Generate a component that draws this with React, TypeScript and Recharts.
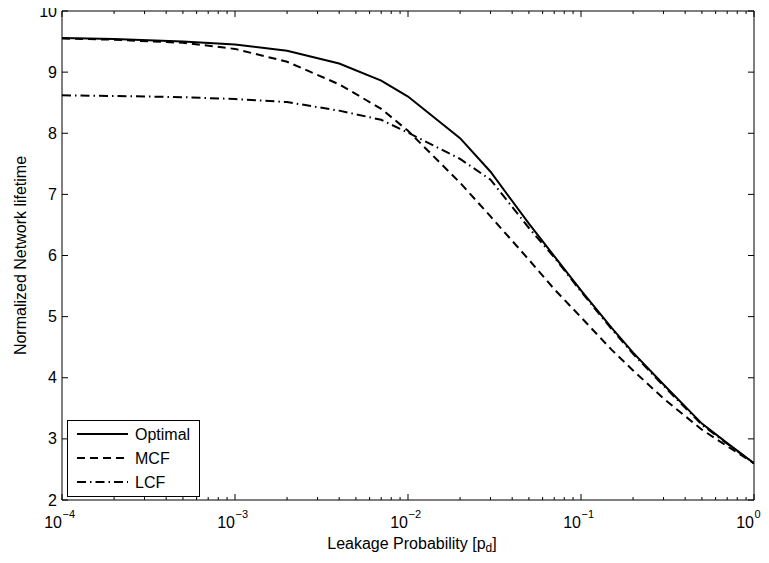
import React from "react";
import { LineChart, Line, XAxis, YAxis, Legend } from "recharts";

// leakage probability p_d (log axis) and normalized lifetime per scheme
const leakProb = [1e-4, 2e-4, 5e-4, 1e-3, 2e-3, 4e-3, 7e-3, 1e-2, 2e-2, 3e-2, 5e-2, 7e-2, 0.1, 0.15, 0.2, 0.3, 0.5, 0.7, 1];
const optimal = [9.56, 9.54, 9.5, 9.45, 9.35, 9.14, 8.86, 8.6, 7.92, 7.37, 6.52, 5.99, 5.43, 4.82, 4.41, 3.89, 3.25, 2.93, 2.6];
const mcf = [9.55, 9.53, 9.48, 9.38, 9.17, 8.8, 8.4, 8.04, 7.19, 6.64, 5.93, 5.45, 4.99, 4.46, 4.12, 3.66, 3.15, 2.88, 2.6];
const lcf = [8.62, 8.61, 8.59, 8.56, 8.51, 8.37, 8.22, 8.01, 7.58, 7.24, 6.45, 5.97, 5.41, 4.8, 4.39, 3.87, 3.23, 2.92, 2.6];

const seriesNames = ["Optimal", "MCF", "LCF"];
const seriesDash = [undefined, "8 5", "9 4 1.5 4"];

const decades = [1e-4, 1e-3, 1e-2, 1e-1, 1];
const decadeLabels = ["\u22124", "\u22123", "\u22122", "\u22121", "0"];
const yTicks = [2, 3, 4, 5, 6, 7, 8, 9, 10];

const rows = leakProb.map((p, i) => ({
  p,
  optimal: optimal[i],
  mcf: mcf[i],
  lcf: lcf[i],
}));

const xTicks: number[] = [];
decades.forEach((d, i) => {
  if (i < decades.length - 1) {
    for (let m = 1; m < 10; m++) xTicks.push(d * m);
  } else {
    xTicks.push(d);
  }
});

const font = "'Liberation Sans', Arial, Helvetica, sans-serif";

const majorIndex = (v: number) => {
  const lg = Math.log10(v);
  if (Math.abs(lg - Math.round(lg)) > 1e-6) return -1;
  return Math.round(lg) + 4;
};

const BottomTick = (props: any) => {
  const { x, y, payload } = props;
  const idx = majorIndex(payload.value);
  const major = idx >= 0;
  return (
    <g>
      <line x1={x} y1={y} x2={x} y2={y - (major ? 6 : 3)} stroke="#000" strokeWidth={1} />
      {major && (
        <g fontFamily={font} fill="#000">
          <text x={x} y={y + 22} textAnchor="end" dominantBaseline="central" fontSize={16}>
            10
          </text>
          <text x={x + 0.5} y={y + 14} textAnchor="start" dominantBaseline="central" fontSize={11}>
            {decadeLabels[idx]}
          </text>
        </g>
      )}
    </g>
  );
};

const TopTick = (props: any) => {
  const { x, y, payload } = props;
  const major = majorIndex(payload.value) >= 0;
  return <line x1={x} y1={y} x2={x} y2={y + (major ? 6 : 3)} stroke="#000" strokeWidth={1} />;
};

const LeftTick = (props: any) => {
  const { x, y, payload } = props;
  return (
    <g>
      <line x1={x} y1={y} x2={x + 6} y2={y} stroke="#000" strokeWidth={1} />
      <text x={x - 5} y={y} textAnchor="end" dominantBaseline="central" fontSize={16} fontFamily={font} fill="#000">
        {payload.value}
      </text>
    </g>
  );
};

const RightTick = (props: any) => {
  const { x, y } = props;
  return <line x1={x} y1={y} x2={x - 6} y2={y} stroke="#000" strokeWidth={1} />;
};

const YLabel = (props: any) => {
  const vb = props.viewBox;
  const cx = vb.x + 20;
  const cy = vb.y + vb.height / 2;
  return (
    <text
      x={cx}
      y={cy}
      transform={`rotate(-90 ${cx} ${cy})`}
      textAnchor="middle"
      dominantBaseline="central"
      fontSize={16}
      fontFamily={font}
      fill="#000"
    >
      Normalized Network lifetime
    </text>
  );
};

const XLabel = (props: any) => {
  const vb = props.viewBox;
  const cx = vb.x + vb.width / 2 + 4;
  const cy = vb.y + 43;
  return (
    <text x={cx} y={cy} textAnchor="middle" dominantBaseline="central" fontSize={16} fontFamily={font} fill="#000">
      Leakage Probability [p
      <tspan fontSize={12} dy={5}>d</tspan>
      <tspan dy={-5}>]</tspan>
    </text>
  );
};

const LegendBox = () => {
  const rowsY = [14, 38, 62];
  return (
    <div style={{ width: 133, height: 77, border: "1px solid #000", background: "#fff", boxSizing: "border-box" }}>
      <svg width={131} height={75} style={{ display: "block" }}>
        {seriesNames.map((name, i) => (
          <g key={name}>
            <line
              x1={9}
              x2={60}
              y1={rowsY[i] - 1}
              y2={rowsY[i] - 1}
              stroke="#000"
              strokeWidth={2}
              strokeDasharray={seriesDash[i]}
            />
            <text x={67} y={rowsY[i] - 1} dominantBaseline="central" fontSize={16} fontFamily={font} fill="#000">
              {name}
            </text>
          </g>
        ))}
      </svg>
    </div>
  );
};

export default function App() {
  return (
    <div style={{ margin: -8, width: 769, height: 563, background: "#fff" }}>
      <LineChart width={769} height={563} data={rows} margin={{ top: 9, right: 10, bottom: 0, left: 0 }}>
        <XAxis
          xAxisId="bottom"
          dataKey="p"
          type="number"
          scale="log"
          domain={[1e-4, 1]}
          allowDataOverflow
          ticks={xTicks}
          interval={0}
          height={63}
          tickSize={0}
          tickMargin={0}
          tickLine={false}
          axisLine={{ stroke: "#000", strokeWidth: 1 }}
          tick={<BottomTick />}
          label={<XLabel />}
        />
        <XAxis
          xAxisId="top"
          orientation="top"
          dataKey="p"
          type="number"
          scale="log"
          domain={[1e-4, 1]}
          allowDataOverflow
          ticks={xTicks}
          interval={0}
          height={2}
          tickSize={0}
          tickMargin={0}
          tickLine={false}
          axisLine={{ stroke: "#000", strokeWidth: 1 }}
          tick={<TopTick />}
        />
        <YAxis
          yAxisId="left"
          type="number"
          domain={[2, 10]}
          allowDataOverflow
          ticks={yTicks}
          interval={0}
          width={62}
          tickSize={0}
          tickMargin={0}
          tickLine={false}
          axisLine={{ stroke: "#000", strokeWidth: 1 }}
          tick={<LeftTick />}
          label={<YLabel />}
        />
        <YAxis
          yAxisId="right"
          orientation="right"
          type="number"
          domain={[2, 10]}
          allowDataOverflow
          ticks={yTicks}
          interval={0}
          width={5}
          tickSize={0}
          tickMargin={0}
          tickLine={false}
          axisLine={{ stroke: "#000", strokeWidth: 1 }}
          tick={<RightTick />}
        />
        <Line
          xAxisId="bottom"
          yAxisId="left"
          dataKey="optimal"
          name={seriesNames[0]}
          type="linear"
          stroke="#000"
          strokeWidth={2}
          dot={false}
          isAnimationActive={false}
        />
        <Line
          xAxisId="bottom"
          yAxisId="left"
          dataKey="mcf"
          name={seriesNames[1]}
          type="linear"
          stroke="#000"
          strokeWidth={2}
          strokeDasharray={seriesDash[1]}
          dot={false}
          isAnimationActive={false}
        />
        <Line
          xAxisId="bottom"
          yAxisId="left"
          dataKey="lcf"
          name={seriesNames[2]}
          type="linear"
          stroke="#000"
          strokeWidth={2}
          strokeDasharray={seriesDash[2]}
          dot={false}
          isAnimationActive={false}
        />
        <Legend
          layout="vertical"
          align="center"
          verticalAlign="middle"
          content={<LegendBox />}
          wrapperStyle={{ left: 67, top: 420, width: 133, height: 77 }}
        />
      </LineChart>
    </div>
  );
}
